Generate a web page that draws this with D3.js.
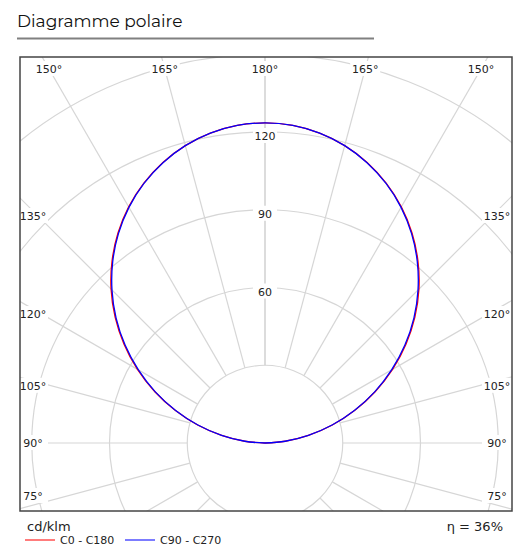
<!DOCTYPE html>
<html><head><meta charset="utf-8">
<script src="https://cdn.jsdelivr.net/npm/d3@7"></script>
<style>body{margin:0;background:#fff}</style>
</head><body>
<svg id="chart" width="522" height="555"></svg>
<script>
// gamma angles (deg) and intensities in cd/klm
const gammas = [90,95,100,105,110,115,120,125,130,135,140,145,150,155,160,165,170,175,180];
const c0c180 = [0,7.8,17,26.9,36.9,47,56.9,66.4,75.5,84,91.8,98.9,105.2,110.6,115.2,118.8,121.4,123,123.5];
const c90c270 = [0,7.8,17,26.8,36.7,46.7,56.4,65.9,75,83.5,91.4,98.6,105,110.5,115.1,118.8,121.4,123,123.5];
const rings = [30,60,90,120,150,180,210];
const ringLabels = [60,90,120];
const spokeAngles = [75,90,105,120,135,150,165,180];

const svg = d3.select("#chart");
const cx = 265, cy = 443;
const frame = {x:20, y:57, w:492, h:454};
const r = d3.scaleLinear().domain([0,120]).range([0,311]);

// title
svg.append("text").attr("x",17).attr("y",27).attr("font-family","Montserrat, 'Open Sans', sans-serif")
  .attr("font-size",17).attr("fill","#111").text("Diagramme polaire");
svg.append("line").attr("x1",17).attr("x2",374).attr("y1",38.5).attr("y2",38.5).attr("stroke","#808080").attr("stroke-width",2);

svg.append("clipPath").attr("id","clip").append("rect")
  .attr("x",frame.x).attr("y",frame.y).attr("width",frame.w).attr("height",frame.h);
const g = svg.append("g").attr("clip-path","url(#clip)");

// point on the polar plot: gamma 180 = up, side = -1 left / +1 right
const pt = (gam, v, side) => {
  const a = (180 - gam) * Math.PI / 180;
  return [cx + side * r(v) * Math.sin(a), cy - r(v) * Math.cos(a)];
};

rings.forEach(v => g.append("circle").attr("cx",cx).attr("cy",cy).attr("r",r(v))
  .attr("fill","none").attr("stroke","#d6d6d6").attr("stroke-width",1.2));
spokeAngles.concat([60,45,30]).forEach(a => [-1,1].forEach(s => {
  const p0 = pt(a, 30, s), p1 = pt(a, 300, s);
  g.append("line").attr("x1",p0[0]).attr("y1",p0[1]).attr("x2",p1[0]).attr("y2",p1[1])
    .attr("stroke","#d6d6d6").attr("stroke-width",1.2);
}));

// ring value labels
ringLabels.forEach(v => {
  const y = cy - r(v) + 4;
  g.append("rect").attr("x",cx-12).attr("y",y-8).attr("width",24).attr("height",15).attr("fill","#fff");
  g.append("text").attr("x",cx).attr("y",y+4).attr("text-anchor","middle")
    .attr("font-family","'DejaVu Sans', sans-serif").attr("font-size",11).attr("fill","#222").text(v);
});

// curves
const line = d3.line().curve(d3.curveCatmullRom);
const series = [{vals:c0c180, color:"#ff0000"},{vals:c90c270, color:"#0000ff"}];
series.forEach(s => {
  const pts = gammas.map((gm,i) => pt(gm, s.vals[i], -1))
    .concat(gammas.slice().reverse().slice(1).map((gm,i) => pt(gm, s.vals[gammas.length-2-i], 1)));
  g.append("path").attr("d", line(pts)).attr("fill","none").attr("stroke",s.color).attr("stroke-width",1.3);
});

// angle labels at the frame edges
const inset = {l:35, r:497, t:69};
const lab = (gm, s) => {
  const a = (180 - gm) * Math.PI / 180;
  let x, y;
  const dxEdge = (inset.r - cx);
  const dyTop = cy - inset.t;
  if (Math.abs(Math.tan(a)) * dyTop < dxEdge && gm > 90) { x = cx + s*dyTop*Math.tan(a); y = inset.t; }
  else { x = cx + s*dxEdge; y = Math.min(cy - dxEdge / Math.tan(a) + 5, 496); if (gm===90) y = cy; }
  svg.append("rect").attr("x",x-15).attr("y",y-8).attr("width",30).attr("height",15).attr("fill","#fff");
  svg.append("text").attr("x",x).attr("y",y+4).attr("text-anchor","middle")
    .attr("font-family","'DejaVu Sans', sans-serif").attr("font-size",11).attr("fill","#222").text(gm+"°");
};
spokeAngles.forEach(a => { if (a===180) lab(a,1); else { lab(a,-1); lab(a,1); } });

svg.append("rect").attr("x",frame.x).attr("y",frame.y).attr("width",frame.w).attr("height",frame.h)
  .attr("fill","none").attr("stroke","#444").attr("stroke-width",1.5);

// footer
svg.append("text").attr("x",27).attr("y",531).attr("font-family","'DejaVu Sans', sans-serif").attr("font-size",13).attr("fill","#222").text("cd/klm");
svg.append("text").attr("x",503).attr("y",531).attr("text-anchor","end").attr("font-family","'DejaVu Sans', sans-serif").attr("font-size",13).attr("fill","#222").text("η = 36%");
[{c:"#ff5050",t:"C0 - C180",x:25},{c:"#5050ff",t:"C90 - C270",x:125}].forEach(d => {
  svg.append("line").attr("x1",d.x).attr("x2",d.x+30).attr("y1",540).attr("y2",540).attr("stroke",d.c).attr("stroke-width",1.5);
  svg.append("text").attr("x",d.x+35).attr("y",544).attr("font-family","'DejaVu Sans', sans-serif").attr("font-size",11).attr("fill","#222").text(d.t);
});
</script>
</body></html>
